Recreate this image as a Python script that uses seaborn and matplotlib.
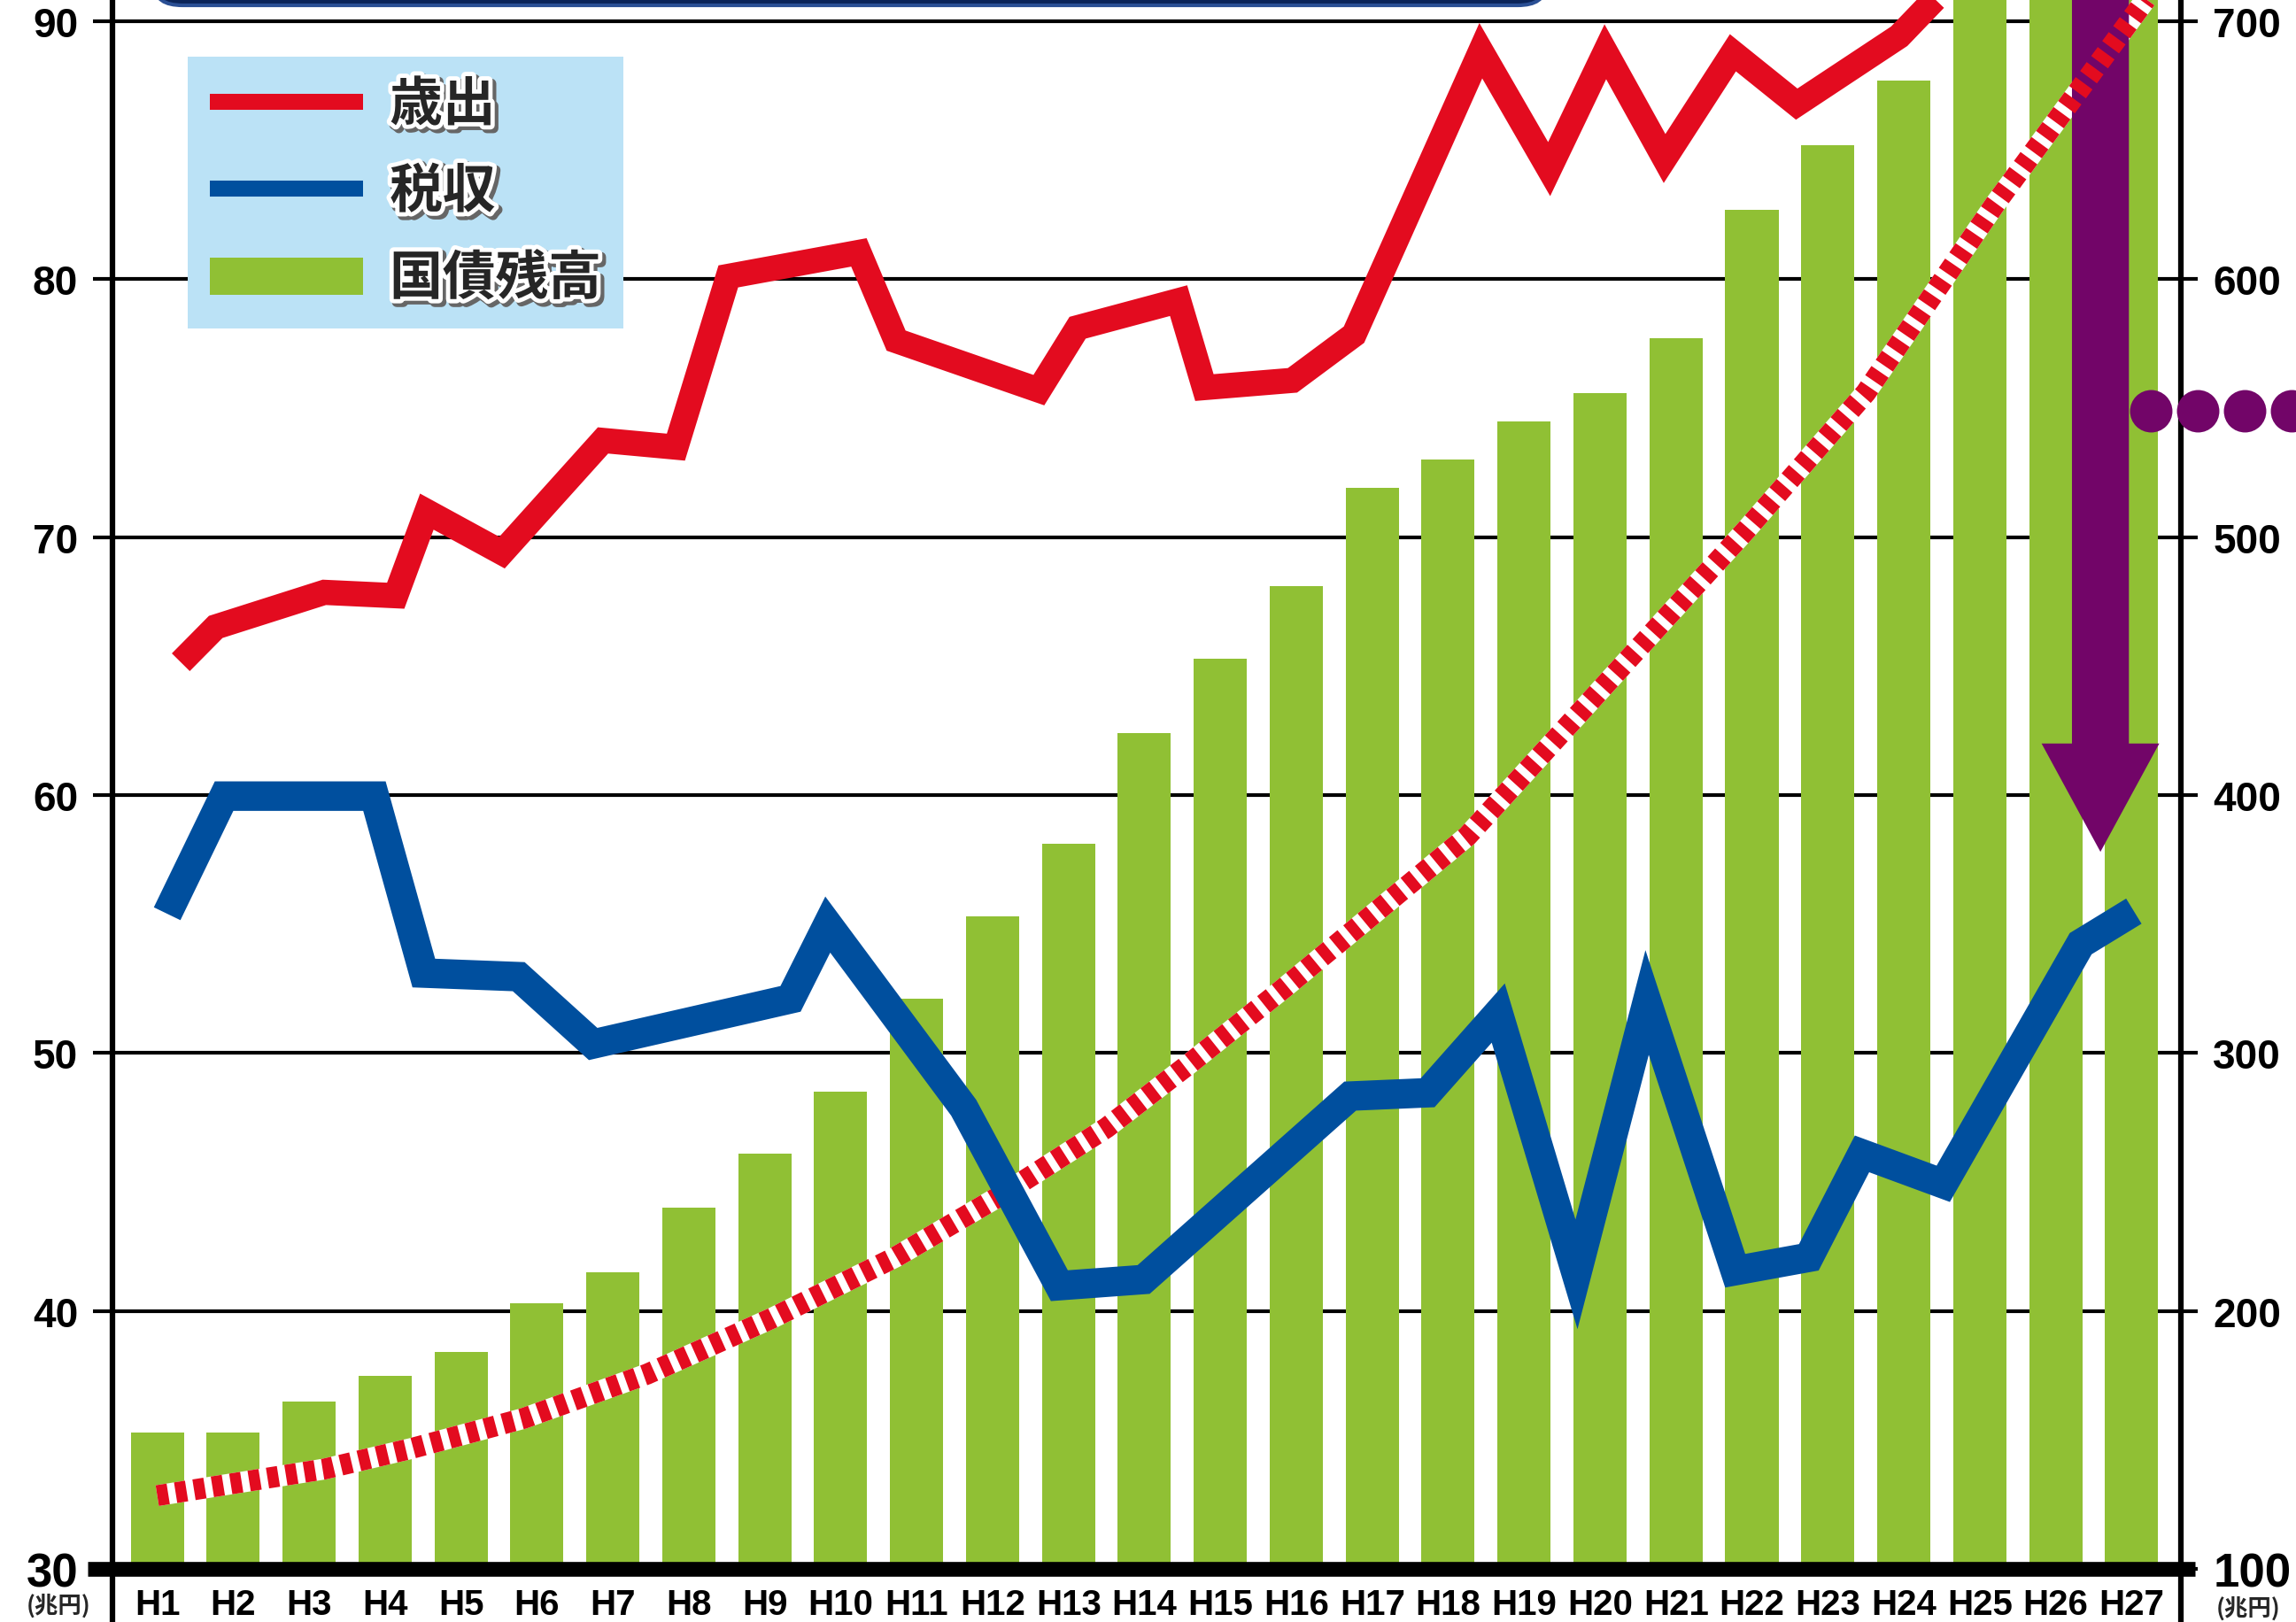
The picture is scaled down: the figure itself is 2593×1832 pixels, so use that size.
"""
歳出・税収・国債残高の推移 (H1-H27) を再現するスクリプト.
"""

import numpy as np
import matplotlib
matplotlib.use('Agg')
import matplotlib.pyplot as plt
import matplotlib.patheffects as pe
from matplotlib.lines import Line2D
from matplotlib.patches import Patch, FancyBboxPatch
from matplotlib.font_manager import FontProperties
import seaborn as sns

# --- data -------------------------------------------------------------
years = ['H%d' % i for i in range(1, 28)]

# 国債残高 (右軸, 兆円)
debt = [153, 153, 165, 175, 184, 203, 215, 240, 261, 285, 321, 353, 381, 424,
        453, 481, 519, 530, 545, 556, 577, 627, 652, 677, 744, 774, 807]

# 歳出 (左軸, 兆円) : 折れ線の頂点 (年度位置, 値)
spend_x = [0.31, 0.77, 2.20, 3.14, 3.55, 4.54, 5.87, 6.83, 7.52, 9.24, 9.73,
           11.61, 12.12, 13.45, 13.79, 14.95, 15.76, 17.43, 18.33, 19.07,
           19.85, 20.75, 21.59, 22.94, 23.41, 23.90]
spend_y = [65.15, 66.52, 67.86, 67.73, 70.99, 69.40, 73.75, 73.49, 80.11,
           81.04, 77.62, 75.70, 78.12, 79.17, 75.80, 76.08, 77.85, 88.86,
           84.27, 88.82, 84.68, 88.78, 86.79, 89.42, 90.86, 93.50]

# 税収 (左軸, 兆円)
tax_x = [0.13, 0.88, 2.86, 3.51, 4.76, 5.74, 8.34, 8.83, 10.62, 11.88, 12.99,
         15.71, 16.73, 17.66, 18.69, 19.62, 20.78, 21.75, 22.45, 23.52, 25.33,
         26.03]
tax_y = [55.40, 59.96, 59.96, 53.10, 52.96, 50.35, 52.10, 54.98, 47.88, 40.98,
         41.22, 48.33, 48.46, 51.55, 41.42, 51.96, 41.56, 42.08, 46.09, 44.93,
         54.24, 55.50]

# 国債残高の傾向線 (赤の点線, 左軸の目盛で読んだ値)
trend_x = [0.0, 2.2, 3.35, 4.82, 6.45, 8.09, 9.73, 11.12, 12.5, 13.6, 14.83,
           17.25, 20.93, 22.5, 24.2, 26.2, 26.6]
trend_y = [32.84, 33.87, 34.67, 35.83, 37.55, 39.71, 42.1, 44.5, 47.1, 49.6,
           52.5, 58.4, 70.3, 75.6, 82.9, 90.9, 93.0]

# 紫の矢印と点
arrow_x = 25.59
arrow_from = 95.0
arrow_to = 57.8
arrow_head = 4.2
dots_x = [26.25, 26.87, 27.49, 28.11, 28.73]
dots_y = [74.9] * len(dots_x)

legend_labels = ['歳出', '税収', '国債残高']

RED = '#E30B1F'
BLUE = '#004F9E'
GREEN = '#90C034'
PURPLE = '#720568'
NAVY = '#0B2458'
LEGEND_BG = '#BBE2F6'

# --- figure -----------------------------------------------------------
sns.set_style('white')
plt.rcParams['font.family'] = ['Liberation Sans', 'Noto Sans CJK JP', 'DejaVu Sans']

fig = plt.figure(figsize=(25.93, 18.33), dpi=100)
ax = fig.add_axes([0.04898, 0.03273, 0.9009, 0.96727])
ax2 = ax.twinx()
ax.set_zorder(ax2.get_zorder() + 1)
ax.patch.set_visible(False)

# bars on the right axis
x_pos = np.arange(len(years))
sns.barplot(x=x_pos, y=debt, ax=ax2, native_scale=True, color=GREEN,
            saturation=1, width=0.7, linewidth=0, zorder=3)
ax2.set_axisbelow(True)
ax2.yaxis.grid(True, color='black', linewidth=3)
ax2.xaxis.grid(False)
ax2.set_ylabel('')
ax2.set_xlabel('')
for s in ax2.spines.values():
    s.set_visible(False)

# trend (white base + red dashes), arrow, lines
ax.plot(trend_x, trend_y, color='white', lw=17, solid_capstyle='butt', zorder=2)
ax.arrow(arrow_x, arrow_from, 0, arrow_to - arrow_from, width=0.75,
         head_width=1.55, head_length=arrow_head, length_includes_head=True,
         color=PURPLE, lw=0, zorder=3)
ax.plot(trend_x, trend_y, color=RED, lw=17, dashes=(0.53, 0.36),
        dash_capstyle='butt', zorder=4)
ax.plot(spend_x, spend_y, color=RED, lw=20.5, solid_joinstyle='miter',
        solid_capstyle='butt', zorder=5)
ax.plot(tax_x, tax_y, color=BLUE, lw=24, solid_joinstyle='miter',
        solid_capstyle='butt', zorder=6)
ax.plot(dots_x, dots_y, 'o', color=PURPLE, markersize=34.5, markeredgewidth=0,
        clip_on=False, zorder=10)

# axes
ax.set_xlim(-0.59, 26.65)
ax.set_ylim(30, 90.86)
ax2.set_ylim(100, 708.6)

ax.set_yticks(range(30, 91, 10))
ax.set_yticklabels([str(v) for v in range(30, 91, 10)], fontweight='bold')
ax2.set_yticks(range(100, 701, 100))
ax2.set_yticklabels([str(v) for v in range(100, 701, 100)], fontweight='bold')
ax.set_xticks(x_pos)
ax.set_xticklabels(years, fontweight='bold', fontsize=29)

ax.tick_params(axis='y', left=True, right=False, direction='out', length=16,
               width=3, color='black', labelsize=33, labelcolor='black', pad=12)
ax2.tick_params(axis='y', right=True, left=False, direction='out', length=14,
                width=3, color='black', labelsize=33, labelcolor='black', pad=12)
ax.tick_params(axis='x', bottom=True, length=0, labelcolor='black', pad=15)

for lab in (ax.get_yticklabels()[0], ax2.get_yticklabels()[0]):
    lab.set_fontsize(38)

ax.spines['top'].set_visible(False)
ax.spines['bottom'].set_visible(False)
for side in ('left', 'right'):
    ax.spines[side].set_color('black')
    ax.spines[side].set_linewidth(4.5)
    ax.spines[side].set_bounds(27.9, 90.86)

ax.axhline(30, xmin=-0.012, xmax=1.007, color='black', lw=12,
           solid_capstyle='butt', clip_on=False, zorder=7)

# units
fig.text(66 / 2593, 1 - 1800 / 1833, '(兆円)', ha='center', va='top',
         fontsize=19, family=['Noto Sans CJK JP'], weight='bold')
fig.text(2539 / 2593, 1 - 1803 / 1833, '(兆円)', ha='center', va='top',
         fontsize=19, family=['Noto Sans CJK JP'], weight='bold')

# title box cut by the top edge
fig.add_artist(FancyBboxPatch((175 / 2593, 1 - 7 / 1833), 1570 / 2593, 0.05,
                              boxstyle='round,pad=0,rounding_size=0.012',
                              transform=fig.transFigure, facecolor=NAVY,
                              edgecolor='#2A4F94', lw=3, clip_on=False))

# legend
handles = [Line2D([], [], color=RED, lw=13, solid_capstyle='butt'),
           Line2D([], [], color=BLUE, lw=13, solid_capstyle='butt'),
           Patch(facecolor=GREEN, edgecolor='none')]
leg = ax.legend(handles, legend_labels, loc='upper left',
                bbox_to_anchor=(212 / 2593, 1 - 65 / 1833),
                bbox_transform=fig.transFigure,
                prop=FontProperties(family='Noto Sans CJK JP', weight='bold', size=43),
                frameon=True, fancybox=False, facecolor=LEGEND_BG,
                edgecolor='none', framealpha=1, borderpad=0.42,
                handlelength=2.9, handleheight=0.7, handletextpad=0.5,
                labelspacing=0.64, borderaxespad=0)
leg.set_zorder(20)
for t in leg.get_texts():
    t.set_path_effects([pe.Stroke(linewidth=8, foreground='#666666', offset=(2.5, -2.5)),
                        pe.Stroke(linewidth=7, foreground='white'),
                        pe.Normal()])

fig.savefig('out.png', dpi=100)
